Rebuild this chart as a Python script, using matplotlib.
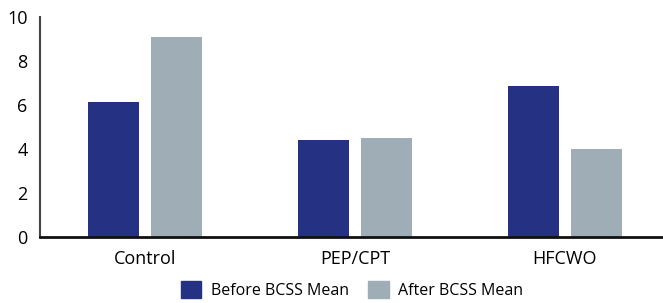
import numpy as np
import matplotlib
matplotlib.use('Agg')
import matplotlib.pyplot as plt
from matplotlib.patches import Patch

plt.rcParams['font.family'] = ['Open Sans', 'DejaVu Sans']

categories = ['Control', 'PEP/CPT', 'HFCWO']
before_mean = [6.15, 4.43, 6.85]
after_mean = [9.08, 4.52, 4.02]
series_labels = ['Before BCSS Mean', 'After BCSS Mean']
colors = ['#253284', '#9eadb6']

fig = plt.figure(figsize=(6.63, 3.03), dpi=100)
ax = fig.add_axes([40 / 663, 1 - 237 / 303, 1 - 40 / 663, (237 - 17) / 303])

x = np.arange(len(categories))
width = 0.243
ax.bar(x - 0.15, before_mean, width, color=colors[0])
ax.bar(x + 0.15, after_mean, width, color=colors[1])

ax.set_xlim(-0.5, 2.467)
ax.set_ylim(0, 10)
ax.set_yticks([0, 2, 4, 6, 8, 10])
ax.set_xticks(x)
ax.set_xticklabels(categories, fontsize=13)
ax.tick_params(axis='y', labelsize=13, length=0, pad=9)
ax.tick_params(axis='x', length=0, pad=9)

for s in ['top', 'right']:
    ax.spines[s].set_visible(False)
ax.spines['left'].set_color('#444444')
ax.spines['left'].set_linewidth(1.5)
ax.spines['bottom'].set_color('#111111')
ax.spines['bottom'].set_linewidth(2)

handles = [Patch(color=c, label=l) for c, l in zip(colors, series_labels)]
fig.legend(handles=handles, loc='center', bbox_to_anchor=(352 / 663, 1 - 290 / 303),
           ncol=2, frameon=False, fontsize=11.5, handlelength=1.3, handleheight=1.3,
           handletextpad=0.6, columnspacing=1.2)

fig.savefig('out.png', dpi=100)
